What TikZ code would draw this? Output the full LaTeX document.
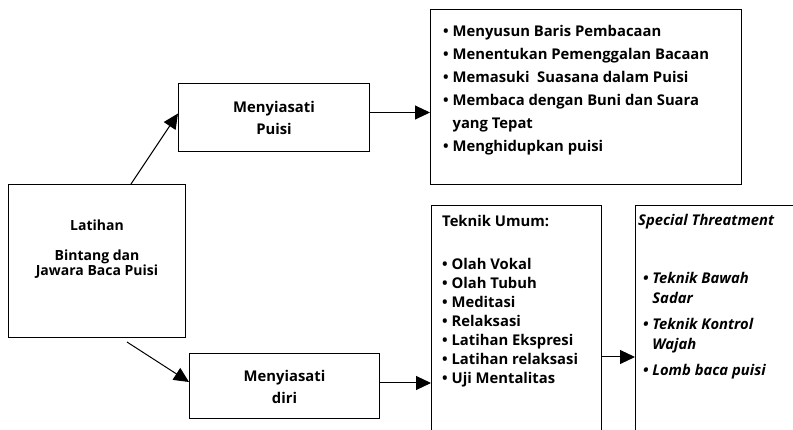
\documentclass[tikz,border=0pt]{standalone}
\usepackage{fontspec}
\setmainfont{Open Sans}
\usetikzlibrary{arrows.meta,positioning}
\newcommand{\itm}{\textbullet\ }
\newcommand{\hang}{\phantom{\textbullet\ }}
\begin{document}
\begin{tikzpicture}[x=1pt,y=-1pt,
    box/.style={draw,line width=1pt,inner sep=0pt,anchor=north west},
    txt/.style={align=center,inner sep=0pt},
    lst/.style={align=left,anchor=north west,inner sep=0pt},
    link/.style={-{Triangle[length=15pt,width=14pt]},line width=1pt},
    ]
\def\fs{14.8} % Font size of all texts

    \useasboundingbox (0,0) rectangle (793,430);
    \clip (0,0) rectangle (793,430);

    %% Boxes
    \node[box,minimum width=177pt,minimum height=153pt] (root) at (8,184) {};
    \node[box,minimum width=191pt,minimum height=68pt] (puisi) at (178,83) {};
    \node[box,minimum width=190pt,minimum height=65pt] (diri) at (189,353) {};
    \node[box,minimum width=311pt,minimum height=175pt] (tips) at (430,9) {};
    \node[box,minimum width=170pt,minimum height=260pt] (umum) at (431,205) {};
    \node[box,minimum width=200pt,minimum height=260pt] (khusus) at (635,205) {};

    %% Texts
    \node[txt,font=\fontsize{14}{15}\selectfont\bfseries] (root text) at ([yshift=12pt]root.center)
        {Latihan\\[15pt] Bintang dan\\ Jawara Baca Puisi};
    \node[txt,font=\fontsize{\fs}{22}\selectfont\bfseries] (puisi text) at (puisi.center)
        {Menyiasati\\ Puisi};
    \node[txt,font=\fontsize{\fs}{22}\selectfont\bfseries] (diri text) at ([yshift=-1pt]diri.center)
        {Menyiasati\\ diri};
    \node[lst,font=\fontsize{\fs}{23}\selectfont\bfseries] (tips text) at (443,25.5)
        {\itm Menyusun Baris Pembacaan\\
         \itm Menentukan Pemenggalan Bacaan\\
         \itm Memasuki\ \ Suasana dalam Puisi\\
         \itm Membaca dengan Buni dan Suara\\
         \hang yang Tepat\\
         \itm Menghidupkan puisi};
    \node[lst,font=\fontsize{\fs}{19}\selectfont\bfseries] (umum text) at (442,215)
        {Teknik Umum:\\[24pt]
         \itm Olah Vokal\\
         \itm Olah Tubuh\\
         \itm Meditasi\\
         \itm Relaksasi\\
         \itm Latihan Ekspresi\\
         \itm Latihan relaksasi\\
         \itm Uji Mentalitas};
    \node[lst,font=\fontsize{\fs}{20}\selectfont\bfseries\itshape] (khusus text) at (638,214)
        {Special Threatment\\[38pt]
         \hspace{5pt}\itm Teknik Bawah\\
         \hspace{5pt}\hang Sadar\\[6pt]
         \hspace{5pt}\itm Teknik Kontrol\\
         \hspace{5pt}\hang Wajah\\[6pt]
         \hspace{5pt}\itm Lomb baca puisi};

    %% Connectors
    \draw[link] ([xshift=34pt]root.north) -- ([yshift=4pt]puisi.west);
    \draw[link] ([yshift=5pt]puisi.east) -- ([yshift=5pt]puisi.east -| tips.west);
    \draw[link] ([xshift=30pt,yshift=-4pt]root.south) -- ([yshift=4pt]diri.west);
    \draw[link] ([yshift=3pt]diri.east) -- ([yshift=3pt]diri.east -| umum.west);
    \draw[link] (umum.east |- 0,357) -- (khusus.west |- 0,357);
\end{tikzpicture}
\end{document}
